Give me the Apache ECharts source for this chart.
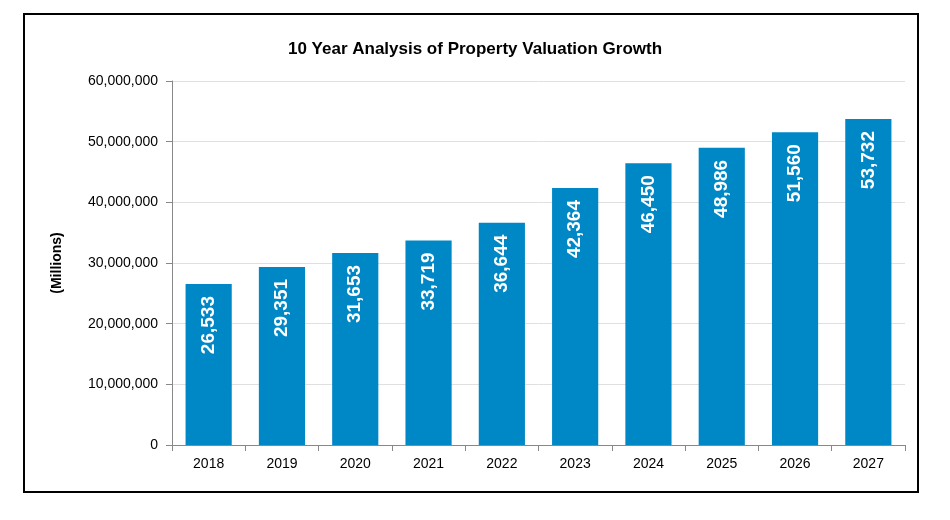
<!DOCTYPE html>
<html>
<head>
<meta charset="utf-8">
<script src="https://cdn.jsdelivr.net/npm/echarts@6/dist/echarts.min.js"></script>
<style>
  html, body { margin: 0; padding: 0; background: #fff; }
  #chart { width: 950px; height: 520px; }
</style>
</head>
<body>
<div id="chart"></div>
<script>
const years = ['2018', '2019', '2020', '2021', '2022', '2023', '2024', '2025', '2026', '2027'];
// values in thousands, as printed on the bars
const valuation = [26533, 29351, 31653, 33719, 36644, 42364, 46450, 48986, 51560, 53732];

const chart = echarts.init(document.getElementById('chart'));

chart.setOption({
  animation: false,
  textStyle: { fontFamily: 'Arial, Liberation Sans, sans-serif' },
  title: {
    text: '10 Year Analysis of Property Valuation Growth',
    left: 470,
    top: 36,
    textAlign: 'center',
    textStyle: { fontSize: 17, fontWeight: 'bold', color: '#000' },
  },
  graphic: [{
    type: 'rect',
    shape: { x: 24, y: 14, width: 894, height: 478 },
    style: { fill: 'none', stroke: '#000', lineWidth: 2 },
  }],
  grid: { left: 172, right: 45, top: 81, bottom: 75 },
  xAxis: {
    type: 'category',
    data: years,
    axisLine: { lineStyle: { color: '#888' } },
    axisTick: { show: true, length: 6, lineStyle: { color: '#888' } },
    axisLabel: { color: '#000', fontSize: 14, margin: 12 },
  },
  yAxis: {
    type: 'value',
    min: 0,
    max: 60000000,
    interval: 10000000,
    name: '(Millions)',
    nameLocation: 'middle',
    nameGap: 108,
    nameTextStyle: { fontSize: 14, fontWeight: 'bold', color: '#000' },
    axisLine: { show: true, lineStyle: { color: '#888' } },
    axisTick: { show: true, length: 6, lineStyle: { color: '#888' } },
    axisLabel: {
      color: '#000',
      fontSize: 14,
      margin: 14,
      formatter: v => v.toLocaleString('en-US'),
    },
    splitLine: { lineStyle: { color: '#e0e0e0' } },
  },
  series: [{
    type: 'bar',
    data: valuation.map(v => v * 1000),
    barWidth: '63%',
    itemStyle: { color: '#0087c6' },
    label: {
      show: true,
      position: 'insideTop',
      rotate: 90,
      align: 'right',
      verticalAlign: 'middle',
      distance: 12,
      color: '#fff',
      fontSize: 19,
      fontWeight: 'bold',
      formatter: p => (p.value / 1000).toLocaleString('en-US'),
    },
  }],
});
</script>
</body>
</html>
